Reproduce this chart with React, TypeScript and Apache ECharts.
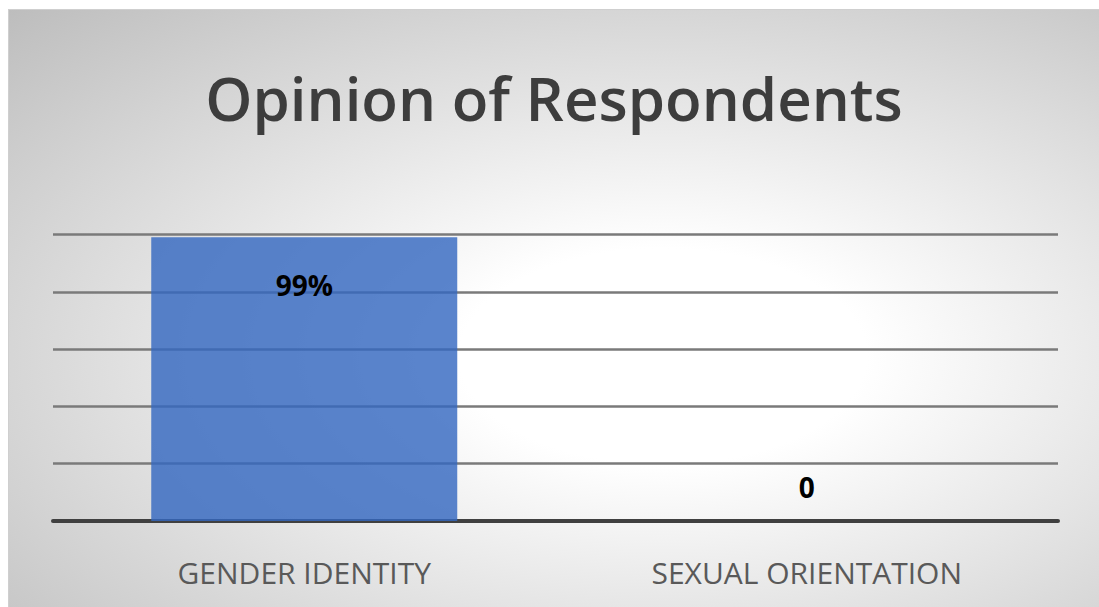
import React, { useEffect, useRef } from "react";
import * as echarts from "echarts";

const titleText = "Opinion of Respondents";
const categories = ["GENDER IDENTITY", "SEXUAL ORIENTATION"];
const values = [0.99, 0];
const valueLabels = ["99%", "0"];
const axisMin = 0;
const axisMax = 1;
const axisInterval = 0.2;

export default function App() {
  const ref = useRef<HTMLDivElement>(null);
  useEffect(() => {
    if (!ref.current) return;
    const chart = echarts.init(ref.current, null, { renderer: "svg" });
    const font = "'Open Sans', 'Noto Sans', sans-serif";
    chart.setOption({
      animation: false,
      backgroundColor: "transparent",
      title: {
        text: titleText,
        left: "center",
        top: 53,
        textStyle: { fontFamily: font, fontSize: 60, fontWeight: 600, color: "#3d3d3d" },
      },
      grid: { left: 44, right: 41, top: 224.5, bottom: 86, containLabel: false },
      xAxis: {
        type: "category",
        data: categories,
        axisLine: { show: true, lineStyle: { color: "#404040", width: 4 } },
        axisTick: { show: false },
        axisLabel: { fontFamily: font, fontSize: 30, color: "#595959", margin: 36 },
      },
      yAxis: {
        type: "value",
        min: axisMin,
        max: axisMax,
        interval: axisInterval,
        axisLabel: { show: false },
        axisLine: { show: false },
        axisTick: { show: false },
        splitLine: { show: true, lineStyle: { color: "#7a7a7a", width: 2.5 } },
      },
      series: [
        {
          type: "bar",
          barWidth: 306,
          data: values.map((v, i) => ({
            value: v,
            label: {
              show: true,
              position: v > 0 ? "insideTop" : "top",
              distance: v > 0 ? 34 : 20,
              formatter: () => valueLabels[i],
              fontFamily: font,
              fontSize: 28,
              fontWeight: "bold",
              color: "#000000",
            },
          })),
          itemStyle: { color: "rgba(52,103,192,0.81)" },
        },
      ],
    });
    return () => chart.dispose();
  }, []);
  return (
    <div
      ref={ref}
      style={{
        position: "absolute",
        left: 8,
        top: 9,
        width: 1091,
        height: 598,
        boxSizing: "border-box",
        borderTop: "1px solid #cfcfcf",
        borderLeft: "1px solid #cfcfcf",
        background:
          "radial-gradient(ellipse farthest-corner at 60% 58%, #ffffff 0%, #ffffff 22%, #bdbdbd 100%)",
      }}
    />
  );
}
